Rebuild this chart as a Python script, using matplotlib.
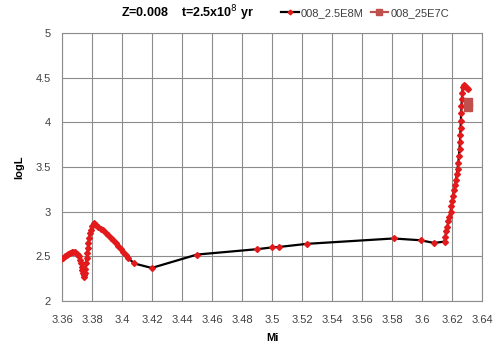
import matplotlib
matplotlib.use("Agg")
import matplotlib.pyplot as plt
import matplotlib.ticker as ticker

# ── data ────────────────────────────────────────────────────────────────────
mi_main = [3.3590, 3.3609, 3.3620, 3.3631, 3.3642, 3.3653, 3.3664, 3.3675,
           3.3686, 3.3698, 3.3706, 3.3713, 3.3720, 3.3727, 3.3731, 3.3735,
           3.3740, 3.3745, 3.3749, 3.3753, 3.3756, 3.3760, 3.3764, 3.3769,
           3.3772, 3.3775, 3.3781, 3.3787, 3.3795, 3.3803, 3.3813, 3.3826,
           3.3842, 3.3858, 3.3875, 3.3892, 3.3909, 3.3925, 3.3942, 3.3958,
           3.3975, 3.3992, 3.4009, 3.4025, 3.4042, 3.4082, 3.4198, 3.4500,
           3.4900, 3.5000, 3.5047, 3.5233, 3.5810, 3.5990, 3.6080, 3.6150,
           3.6155, 3.6162, 3.6169, 3.6175, 3.6182, 3.6190, 3.6196, 3.6203,
           3.6209, 3.6215, 3.6221, 3.6227, 3.6232, 3.6237, 3.6242, 3.6246,
           3.6250, 3.6253, 3.6255, 3.6257, 3.6259, 3.6261, 3.6263, 3.6266,
           3.6268, 3.6272, 3.6278, 3.6288, 3.6298, 3.6305]
logl_main = [2.47, 2.485, 2.50, 2.515, 2.53, 2.54, 2.548, 2.55,
             2.545, 2.53, 2.515, 2.50, 2.46, 2.42, 2.385, 2.35,
             2.31, 2.27, 2.29, 2.31, 2.36, 2.42, 2.48, 2.54,
             2.59, 2.65, 2.70, 2.76, 2.80, 2.84, 2.875, 2.85,
             2.83, 2.81, 2.79, 2.765, 2.74, 2.71, 2.68, 2.65,
             2.62, 2.585, 2.55, 2.515, 2.48, 2.42, 2.37, 2.52,
             2.58, 2.60, 2.605, 2.64, 2.70, 2.68, 2.65, 2.665,
             2.72, 2.78, 2.83, 2.89, 2.94, 3.00, 3.06, 3.12,
             3.18, 3.24, 3.30, 3.36, 3.42, 3.48, 3.55, 3.62,
             3.70, 3.78, 3.86, 3.94, 4.02, 4.10, 4.18, 4.26,
             4.33, 4.39, 4.42, 4.41, 4.385, 4.37]

mi_c = [3.6305, 3.6305]
logl_c = [4.17, 4.23]

labels = ["008_2.5E8M", "008_25E7C"]
x_ticks = [3.36, 3.38, 3.40, 3.42, 3.44, 3.46, 3.48, 3.50,
           3.52, 3.54, 3.56, 3.58, 3.60, 3.62, 3.64]
y_ticks = [2, 2.5, 3, 3.5, 4, 4.5, 5]

plt.rcParams["font.family"] = ["Liberation Sans", "DejaVu Sans"]

fig = plt.figure(figsize=(5.0, 3.49), dpi=100)
ax = fig.add_axes([0.124, 0.1375, 0.84, 0.768])

ax.plot(mi_main, logl_main, color="black", lw=1.6, marker="D", ms=3.0,
        mfc="#e31a1c", mec="#e31a1c", label=labels[0], zorder=3)
ax.plot(mi_c, logl_c, color="#c0504d", lw=1.6, marker="s", ms=6,
        mfc="#c0504d", mec="#c0504d", label=labels[1], zorder=4)

ax.set_xlim(3.36, 3.64)
ax.set_ylim(2, 5)
ax.set_xticks(x_ticks)
ax.set_yticks(y_ticks)
ax.xaxis.set_major_formatter(ticker.FuncFormatter(lambda v, p: f"{v:g}"))
ax.yaxis.set_major_formatter(ticker.FuncFormatter(lambda v, p: f"{v:g}"))
ax.tick_params(length=0, labelsize=8, colors="#404040", pad=10)
ax.tick_params(axis="y", pad=8)
ax.grid(True, color="#8c8c8c", lw=0.8)
for s in ax.spines.values():
    s.set_color("#8c8c8c")
    s.set_linewidth(0.8)

ax.set_xlabel("Mi", fontsize=8, fontweight="bold", labelpad=6)
ax.set_ylabel("logL", fontsize=8, fontweight="bold", labelpad=8)

fig.text(0.242, 0.962, "Z=0.008    t=2.5x10$^{8}$ yr", fontsize=9,
         fontweight="bold", va="center")
leg = fig.legend(loc="center left", bbox_to_anchor=(0.562, 0.962), ncol=2,
                 frameon=False, fontsize=8, handlelength=1.6,
                 handletextpad=0.2, columnspacing=0.6, borderaxespad=0,
                 borderpad=0, markerscale=0.8)
for t in leg.get_texts():
    t.set_color("#404040")

fig.savefig("out.png", dpi=100)
